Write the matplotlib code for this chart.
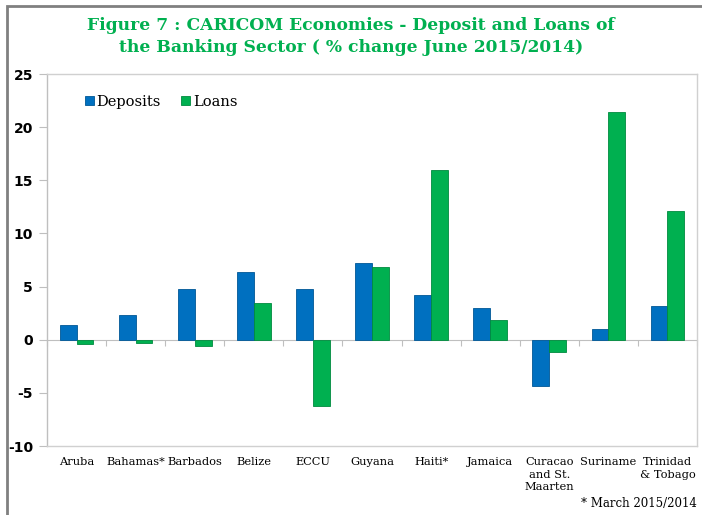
import matplotlib
matplotlib.use("Agg")
import numpy as np
import matplotlib.pyplot as plt
from matplotlib.patches import Rectangle

countries = ["Aruba", "Bahamas*", "Barbados", "Belize", "ECCU", "Guyana", "Haiti*",
             "Jamaica", "Curacao\nand St.\nMaarten", "Suriname", "Trinidad\n& Tobago"]
deposits = [1.4, 2.3, 4.8, 6.4, 4.8, 7.2, 4.2, 3.0, -4.4, 1.0, 3.2]
loans = [-0.4, -0.3, -0.6, 3.5, -6.2, 6.8, 16.0, 1.9, -1.2, 21.4, 12.1]
yticks = [-10, -5, 0, 5, 10, 15, 20, 25]

BLUE = "#0070C0"
GREEN = "#00B050"
SERIF = "DejaVu Serif"

fig = plt.figure(figsize=(7.02, 5.15), dpi=100)
ax = fig.add_axes([47 / 702, 1 - 446 / 515, 650 / 702, 372 / 515])

x = np.arange(len(countries))
w = 0.285
ax.bar(x - w / 2, deposits, w, color=BLUE, edgecolor="#005796", linewidth=0.6, label="Deposits", zorder=3)
ax.bar(x + w / 2, loans, w, color=GREEN, edgecolor="#008a3e", linewidth=0.6, label="Loans", zorder=3)

ax.set_xlim(-0.5, len(countries) - 0.5)
ax.set_ylim(-10, 25)
ax.set_yticks(yticks)
ax.set_yticklabels([str(v) for v in yticks], fontsize=10, fontweight="bold", family="DejaVu Sans")
ax.tick_params(axis="y", length=6, color="#BFBFBF", pad=4)

ax.set_xticks(x)
ax.set_xticklabels(countries, fontsize=8.2, family=SERIF, va="top", linespacing=1.3)
ax.tick_params(axis="x", length=0, pad=8)

for s in ax.spines.values():
    s.set_color("#D0D0D0")
    s.set_linewidth(1.0)
ax.spines["left"].set_color("#BFBFBF")

# zero line with category separators
zero = ax.secondary_xaxis(10 / 35)
zero.set_xticks(np.arange(len(countries) + 1) - 0.5)
zero.set_xticklabels([])
zero.tick_params(length=4, color="#BFBFBF", direction="out")
zero.spines["bottom"].set_color("#BFBFBF")

leg = ax.legend(loc="upper left", bbox_to_anchor=(0.038, 0.98), ncol=2, frameon=False,
                prop={"family": SERIF, "size": 10.5}, handlelength=0.6, handleheight=0.6,
                handletextpad=0.2, columnspacing=1.4)

fig.text(0.5, 1 - 25 / 515, "Figure 7 : CARICOM Economies - Deposit and Loans of",
         ha="center", va="center", color=GREEN, fontsize=12.3, fontweight="bold", family=SERIF)
fig.text(0.5, 1 - 48 / 515, "the Banking Sector ( % change June 2015/2014)",
         ha="center", va="center", color=GREEN, fontsize=12.3, fontweight="bold", family=SERIF)
fig.text(697 / 702, 1 - 503 / 515, "* March 2015/2014", ha="right", va="center",
         fontsize=8.5, family=SERIF)

fig.patches.append(Rectangle((7 / 702, -0.1), 1.2, 1 - 6 / 515 + 0.1, transform=fig.transFigure,
                             fill=False, edgecolor="#808080", linewidth=2))

fig.savefig("out.png", dpi=100)
